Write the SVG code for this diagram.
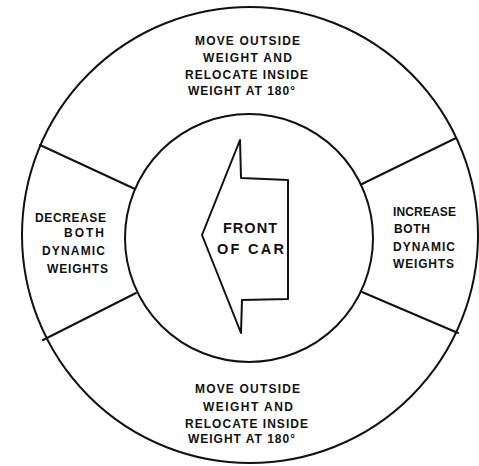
<svg xmlns="http://www.w3.org/2000/svg" width="479" height="466" viewBox="0 0 479 466">
<style>
.ln{fill:none;stroke:#111;stroke-width:2;stroke-linecap:round;stroke-linejoin:round}
.t{font-family:"Liberation Sans",Arial,sans-serif;font-weight:bold;font-size:12px;fill:#111}
.c{font-family:"Liberation Sans",Arial,sans-serif;font-weight:bold;font-size:14.5px;fill:#111}
</style>
<rect width="479" height="466" fill="#fff"/>
<g id="outer-ring">
<circle class="ln" cx="250" cy="235" r="228"/>
</g>
<g id="inner-circle">
<circle class="ln" cx="249" cy="238" r="124"/>
</g>
<g id="connectors">
<line class="ln" x1="40" y1="145" x2="135" y2="189"/>
<line class="ln" x1="43" y1="340" x2="136" y2="293"/>
<line class="ln" x1="456" y1="138" x2="362" y2="184"/>
<line class="ln" x1="458" y1="333" x2="362" y2="292"/>
</g>
<g id="front-of-car">
<polygon class="ln" points="240,140 241,178 288,180 288,299 242,300 241,333 202,235"/>
<text class="c" x="223" y="233" textLength="54" lengthAdjust="spacing">FRONT</text>
<text class="c" x="217" y="254" textLength="67" lengthAdjust="spacing">OF CAR</text>
</g>
<g id="top-segment">
<text class="t" x="195" y="45" textLength="105" lengthAdjust="spacing">MOVE OUTSIDE</text>
<text class="t" x="203" y="62" textLength="89" lengthAdjust="spacing">WEIGHT AND</text>
<text class="t" x="185" y="79" textLength="123" lengthAdjust="spacing">RELOCATE INSIDE</text>
<text class="t" x="188" y="95" textLength="107" lengthAdjust="spacing">WEIGHT AT 180°</text>
</g>
<g id="bottom-segment">
<text class="t" x="195" y="393" textLength="105" lengthAdjust="spacing">MOVE OUTSIDE</text>
<text class="t" x="203" y="411" textLength="90" lengthAdjust="spacing">WEIGHT AND</text>
<text class="t" x="185" y="428" textLength="123" lengthAdjust="spacing">RELOCATE INSIDE</text>
<text class="t" x="188" y="443" textLength="107" lengthAdjust="spacing">WEIGHT AT 180°</text>
</g>
<g id="left-segment">
<text class="t" x="35" y="222" textLength="71" lengthAdjust="spacing">DECREASE</text>
<text class="t" x="64" y="237" textLength="40" lengthAdjust="spacing">BOTH</text>
<text class="t" x="42" y="255" textLength="63" lengthAdjust="spacing">DYNAMIC</text>
<text class="t" x="47" y="273" textLength="61" lengthAdjust="spacing">WEIGHTS</text>
</g>
<g id="right-segment">
<text class="t" x="393" y="216" textLength="63" lengthAdjust="spacing">INCREASE</text>
<text class="t" x="394" y="233" textLength="36" lengthAdjust="spacing">BOTH</text>
<text class="t" x="393" y="251" textLength="62" lengthAdjust="spacing">DYNAMIC</text>
<text class="t" x="393" y="268" textLength="61" lengthAdjust="spacing">WEIGHTS</text>
</g>
</svg>
